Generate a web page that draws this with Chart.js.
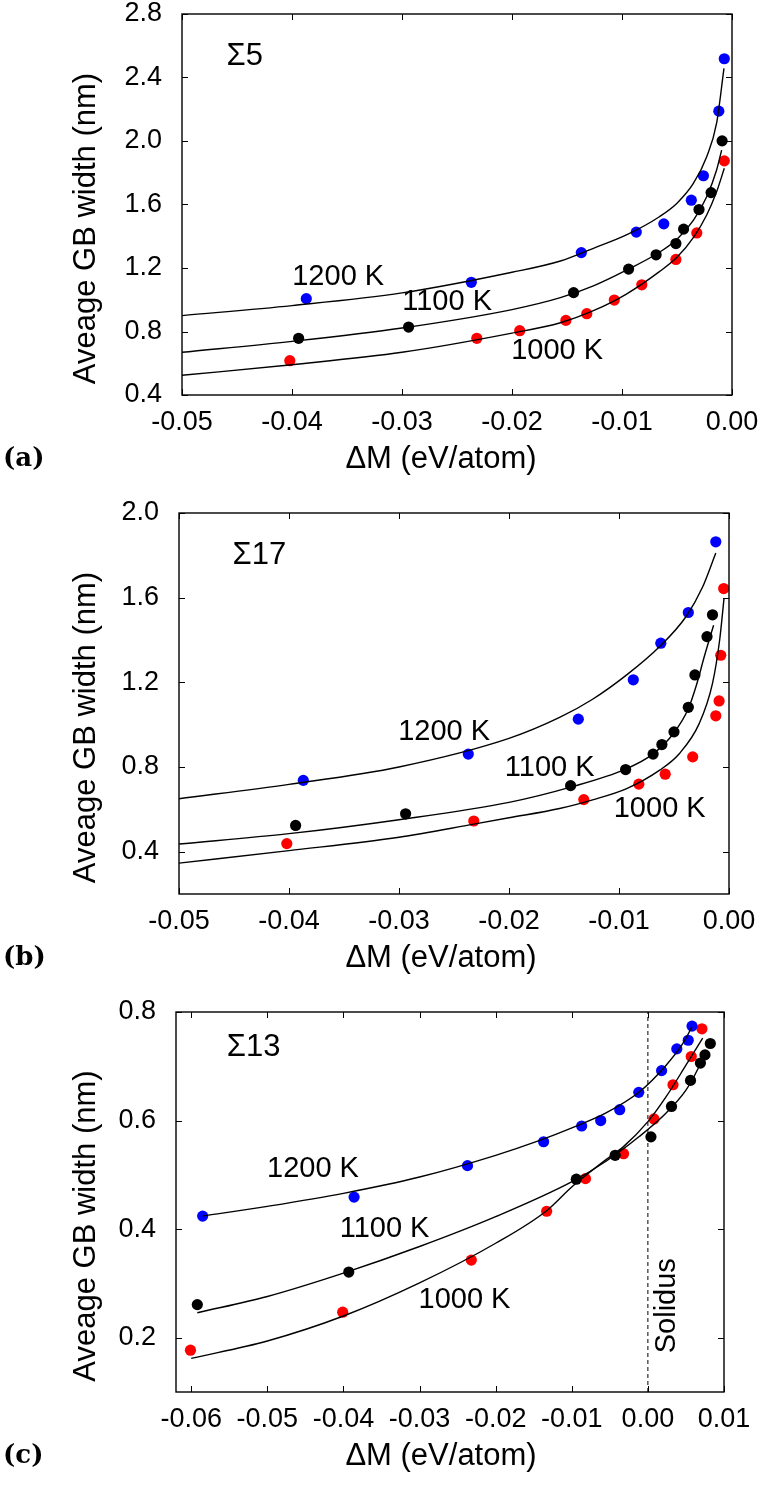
<!DOCTYPE html>
<html>
<head>
<meta charset="utf-8">
<script src="https://cdn.jsdelivr.net/npm/chart.js@4.4.1/dist/chart.umd.min.js"></script>
<style>
html,body{margin:0;padding:0;background:#fff;}
#wrap{position:relative;width:761px;height:1493px;overflow:hidden;}
canvas{position:absolute;left:0;}
</style>
</head>
<body>
<div id="wrap">
<canvas id="ca" width="761" height="480" style="top:0px"></canvas>
<canvas id="cb" width="761" height="510" style="top:480px"></canvas>
<canvas id="cc" width="761" height="503" style="top:990px"></canvas>
</div>
<script>
// ---------------- DATA ----------------
// Panel (a) Σ5
const aXTicks = [-0.05, -0.04, -0.03, -0.02, -0.01, 0.00];
const aYTicks = [0.4, 0.8, 1.2, 1.6, 2.0, 2.4, 2.8];
const a1200x = [-0.0387, -0.0237, -0.0137, -0.0087, -0.0062, -0.0037, -0.0026, -0.0012, -0.0007];
const a1200y = [1.007, 1.110, 1.297, 1.426, 1.478, 1.627, 1.781, 2.188, 2.518];
const a1100x = [-0.0394, -0.0294, -0.0144, -0.0094, -0.0069, -0.0051, -0.0044, -0.0030, -0.0019, -0.0009];
const a1100y = [0.757, 0.828, 1.045, 1.193, 1.283, 1.354, 1.445, 1.568, 1.675, 2.001];
const a1000x = [-0.0402, -0.0232, -0.0193, -0.0151, -0.0132, -0.0107, -0.0082, -0.0051, -0.0032, -0.0007];
const a1000y = [0.616, 0.757, 0.805, 0.870, 0.912, 0.998, 1.094, 1.254, 1.421, 1.875];
const aFit1200x = [-0.05, -0.04, -0.03, -0.02, -0.0156, -0.0126, -0.0096, -0.0066, -0.0050, -0.0035, -0.0023, -0.0014, -0.00073];
const aFit1200y = [0.900, 0.963, 1.043, 1.173, 1.244, 1.324, 1.408, 1.523, 1.608, 1.734, 1.901, 2.112, 2.458];
const aFit1100x = [-0.05, -0.04, -0.03, -0.02, -0.0156, -0.0126, -0.0096, -0.0066, -0.0050, -0.0035, -0.0023, -0.0014, -0.00094];
const aFit1100y = [0.669, 0.738, 0.822, 0.938, 1.013, 1.087, 1.186, 1.299, 1.381, 1.502, 1.649, 1.817, 1.943];
const aFit1000x = [-0.05, -0.04, -0.03, -0.02, -0.0156, -0.0126, -0.0096, -0.0066, -0.0050, -0.0035, -0.0023, -0.0014, -0.0007];
const aFit1000y = [0.524, 0.591, 0.669, 0.790, 0.855, 0.931, 1.036, 1.177, 1.267, 1.393, 1.534, 1.680, 1.828];

// Panel (b) Σ17
const bXTicks = [-0.05, -0.04, -0.03, -0.02, -0.01, 0.00];
const bYTicks = [0.4, 0.8, 1.2, 1.6, 2.0];
const b1200x = [-0.0387, -0.0237, -0.0137, -0.0087, -0.0062, -0.0037, -0.0012];
const b1200y = [0.737, 0.861, 1.026, 1.212, 1.385, 1.530, 1.864];
const b1100x = [-0.0394, -0.0294, -0.0144, -0.0094, -0.0069, -0.0061, -0.0050, -0.0037, -0.0031, -0.0020, -0.0015];
const b1100y = [0.524, 0.579, 0.712, 0.788, 0.861, 0.906, 0.966, 1.082, 1.235, 1.416, 1.519];
const b1000x = [-0.0402, -0.0232, -0.0132, -0.0082, -0.0058, -0.0033, -0.0012, -0.0009, -0.00075, -0.00048];
const b1000y = [0.438, 0.545, 0.646, 0.719, 0.766, 0.848, 1.042, 1.112, 1.328, 1.643];
const bFit1200x = [-0.05, -0.04, -0.03, -0.02, -0.0154, -0.0124, -0.0093, -0.0063, -0.0039, -0.0024, -0.0012];
const bFit1200y = [0.650, 0.718, 0.800, 0.935, 1.034, 1.120, 1.235, 1.369, 1.511, 1.650, 1.811];
const bFit1100x = [-0.05, -0.04, -0.03, -0.02, -0.0144, -0.0094, -0.0069, -0.0050, -0.0037, -0.0030, -0.0022, -0.0014];
const bFit1100y = [0.436, 0.485, 0.551, 0.633, 0.705, 0.790, 0.862, 0.962, 1.075, 1.180, 1.330, 1.470];
const bFit1000x = [-0.05, -0.04, -0.03, -0.0232, -0.02, -0.0154, -0.0124, -0.0093, -0.0063, -0.0045, -0.0027, -0.0015, -0.00085, -0.00045];
const bFit1000y = [0.346, 0.405, 0.468, 0.530, 0.560, 0.604, 0.645, 0.698, 0.785, 0.864, 1.006, 1.195, 1.400, 1.598];

// Panel (c) Σ13
const cXTicks = [-0.06, -0.05, -0.04, -0.03, -0.02, -0.01, 0.00, 0.01];
const cYTicks = [0.2, 0.4, 0.6, 0.8];
const c1200x = [-0.0585, -0.0386, -0.0237, -0.0137, -0.0087, -0.0062, -0.0037, -0.0012, 0.0018, 0.0038, 0.0053, 0.0058];
const c1200y = [0.424, 0.459, 0.517, 0.561, 0.590, 0.600, 0.620, 0.652, 0.692, 0.732, 0.748, 0.774];
const c1100x = [-0.0592, -0.0393, -0.0094, -0.0043, 0.0004, 0.0031, 0.0056, 0.0069, 0.0075, 0.0082];
const c1100y = [0.261, 0.321, 0.492, 0.536, 0.570, 0.626, 0.674, 0.706, 0.721, 0.742];
const c1000x = [-0.0601, -0.0401, -0.0232, -0.0133, -0.0082, -0.0032, 0.0008, 0.0033, 0.0057, 0.0071];
const c1000y = [0.177, 0.247, 0.343, 0.433, 0.493, 0.539, 0.603, 0.666, 0.718, 0.769];
const cFit1200x = [-0.0585, -0.05, -0.04, -0.03, -0.02, -0.0143, -0.0099, -0.0055, -0.0011, 0.0024, 0.0046, 0.0058];
const cFit1200y = [0.424, 0.442, 0.466, 0.496, 0.536, 0.563, 0.587, 0.614, 0.653, 0.702, 0.742, 0.773];
const cFit1100x = [-0.0592, -0.05, -0.04, -0.03, -0.02, -0.0099, -0.0055, -0.0011, 0.0024, 0.0050, 0.0066, 0.0077];
const cFit1100y = [0.246, 0.276, 0.319, 0.368, 0.423, 0.488, 0.525, 0.571, 0.614, 0.656, 0.696, 0.730];
const cFit1000x = [-0.0600, -0.05, -0.04, -0.03, -0.02, -0.0133, -0.0099, -0.0055, -0.0032, 0.0, 0.0024, 0.0050, 0.0072];
const cFit1000y = [0.162, 0.194, 0.240, 0.301, 0.374, 0.434, 0.479, 0.528, 0.552, 0.598, 0.644, 0.702, 0.752];
const cSolidusX = [0.0, 0.0];
const cSolidusY = [0.1, 0.8];

// ---------------- STYLE ----------------
const SANS = '"Liberation Sans", Arial, Helvetica, sans-serif';
const SERIF = '"DejaVu Serif", "Liberation Serif", serif';
const TICK_SIZE = 27, TITLE_SIZE = 31, LABEL_SIZE = 29, SIGMA_SIZE = 31;
const Y_W = 80, X_H = 50;
const COL = {1200: '#0000ff', 1100: '#000000', 1000: '#ff0000'};

function pts(xs, ys) { return xs.map((x, i) => ({x: x, y: ys[i]})); }

const framePlugin = {
  id: 'frame',
  afterDatasetsDraw(chart) {
    const {ctx, chartArea: a, scales} = chart;
    ctx.save();
    ctx.strokeStyle = '#000';
    ctx.lineWidth = 1.4;
    ctx.strokeRect(a.left, a.top, a.right - a.left, a.bottom - a.top);
    ctx.lineWidth = 1;
    const L = 6;
    scales.x.ticks.forEach(t => {
      const px = Math.round(scales.x.getPixelForValue(t.value)) + 0.5;
      ctx.beginPath();
      ctx.moveTo(px, a.bottom); ctx.lineTo(px, a.bottom - L);
      ctx.moveTo(px, a.top); ctx.lineTo(px, a.top + L);
      ctx.stroke();
    });
    scales.y.ticks.forEach(t => {
      const py = Math.round(scales.y.getPixelForValue(t.value)) + 0.5;
      ctx.beginPath();
      ctx.moveTo(a.left, py); ctx.lineTo(a.left + L, py);
      ctx.moveTo(a.right, py); ctx.lineTo(a.right - L, py);
      ctx.stroke();
    });
    ctx.restore();
  }
};

const textPlugin = {
  id: 'texts',
  afterDraw(chart, args, opts) {
    const {ctx, scales} = chart;
    const a = chart.chartArea;
    ctx.save();
    ctx.fillStyle = '#000';
    ctx.textAlign = 'center';
    ctx.textBaseline = 'middle';
    (opts.labels || []).forEach(l => {
      const px = scales.x.getPixelForValue(l.x);
      const py = scales.y.getPixelForValue(l.y);
      ctx.font = l.size + 'px ' + SANS;
      ctx.save();
      ctx.translate(px, py);
      if (l.rot) ctx.rotate(l.rot);
      ctx.fillText(l.text, 0, 0);
      ctx.restore();
    });
    ctx.font = TITLE_SIZE + 'px ' + SANS;
    ctx.fillText(opts.xTitle, opts.xTitleX, a.bottom + opts.xTitleDy);
    ctx.save();
    ctx.translate(opts.yTitleX, (a.top + a.bottom) / 2 + opts.yTitleDy);
    ctx.rotate(-Math.PI / 2);
    ctx.fillText(opts.yTitle, 0, 0);
    ctx.restore();
    ctx.font = 'bold 26px ' + SERIF;
    ctx.textAlign = 'left';
    ctx.fillText(opts.letter, 3, a.bottom + opts.letterDy);
    ctx.restore();
  }
};

function makePanel(id, top, height, area, xr, yr, xTicks, yTicks, sets, fits, extra, labels, letter) {
  const datasets = [];
  fits.forEach(f => datasets.push({
    data: pts(f[0], f[1]), showLine: true, borderColor: '#000', borderWidth: 1.4,
    pointRadius: 0, cubicInterpolationMode: 'monotone', fill: false, order: 0
  }));
  extra.forEach(e => datasets.push(e));
  sets.forEach(s => datasets.push({
    data: pts(s[0], s[1]), showLine: false, backgroundColor: COL[s[2]],
    pointRadius: 5.6, pointBorderWidth: 0, borderWidth: 0, order: 1
  }));
  return new Chart(document.getElementById(id), {
    type: 'scatter',
    data: {datasets: datasets},
    options: {
      responsive: false, animation: false, events: [],
      layout: {padding: {left: area.l - Y_W, right: 761 - area.r, top: area.t - top, bottom: top + height - area.b - X_H}},
      plugins: {
        legend: {display: false}, tooltip: {enabled: false},
        texts: {labels: labels, xTitle: 'ΔM (eV/atom)', xTitleX: 441, xTitleDy: 64,
                yTitle: 'Aveage GB width (nm)', yTitleX: 86, yTitleDy: 24, letter: letter, letterDy: 64}
      },
      scales: {
        x: {
          type: 'linear', min: xr[0], max: xr[1],
          afterBuildTicks: s => { s.ticks = xTicks.map(v => ({value: v})); },
          afterFit: s => { s.height = X_H; s.paddingLeft = 0; s.paddingRight = 0; },
          ticks: {callback: v => (Math.abs(v) < 1e-9 ? 0 : v).toFixed(2), font: {family: SANS, size: TICK_SIZE},
                  color: '#000', padding: 11, maxRotation: 0, autoSkip: false},
          grid: {display: false, drawTicks: false}, border: {display: false}
        },
        y: {
          type: 'linear', min: yr[0], max: yr[1],
          afterBuildTicks: s => { s.ticks = yTicks.map(v => ({value: v})); },
          afterFit: s => { s.width = Y_W; s.paddingTop = 0; s.paddingBottom = 0; },
          ticks: {callback: v => v.toFixed(1), font: {family: SANS, size: TICK_SIZE},
                  color: '#000', padding: 20, autoSkip: false},
          grid: {display: false, drawTicks: false}, border: {display: false}
        }
      }
    },
    plugins: [framePlugin, textPlugin]
  });
}

makePanel('ca', 0, 480, {l: 182, r: 732, t: 14, b: 395}, [-0.05, 0.0], [0.4, 2.8], aXTicks, aYTicks,
  [[a1200x, a1200y, 1200], [a1100x, a1100y, 1100], [a1000x, a1000y, 1000]],
  [[aFit1200x, aFit1200y], [aFit1100x, aFit1100y], [aFit1000x, aFit1000y]], [],
  [{text: 'Σ5', x: -0.0443, y: 2.535, size: SIGMA_SIZE},
   {text: '1200 K', x: -0.0358, y: 1.143, size: LABEL_SIZE},
   {text: '1100 K', x: -0.0259, y: 0.986, size: LABEL_SIZE},
   {text: '1000 K', x: -0.0159, y: 0.677, size: LABEL_SIZE}], '(a)');

makePanel('cb', 480, 510, {l: 179, r: 729, t: 513, b: 894}, [-0.05, 0.0], [0.2, 2.0], bXTicks, bYTicks,
  [[b1200x, b1200y, 1200], [b1100x, b1100y, 1100], [b1000x, b1000y, 1000]],
  [[bFit1200x, bFit1200y], [bFit1100x, bFit1100y], [bFit1000x, bFit1000y]], [],
  [{text: 'Σ17', x: -0.0427, y: 1.798, size: SIGMA_SIZE},
   {text: '1200 K', x: -0.0259, y: 0.965, size: LABEL_SIZE},
   {text: '1100 K', x: -0.0163, y: 0.794, size: LABEL_SIZE},
   {text: '1000 K', x: -0.0063, y: 0.600, size: LABEL_SIZE}], '(b)');

makePanel('cc', 990, 503, {l: 176, r: 724, t: 1012, b: 1392}, [-0.062, 0.01], [0.1, 0.8], cXTicks, cYTicks,
  [[c1200x, c1200y, 1200], [c1100x, c1100y, 1100], [c1000x, c1000y, 1000]],
  [[cFit1200x, cFit1200y], [cFit1100x, cFit1100y], [cFit1000x, cFit1000y]],
  [{data: pts(cSolidusX, cSolidusY), showLine: true, borderColor: '#000', borderWidth: 1,
    borderDash: [4, 3], pointRadius: 0, order: 2}],
  [{text: 'Σ13', x: -0.0518, y: 0.735, size: SIGMA_SIZE},
   {text: '1200 K', x: -0.0440, y: 0.511, size: LABEL_SIZE},
   {text: '1100 K', x: -0.0346, y: 0.401, size: LABEL_SIZE},
   {text: '1000 K', x: -0.0241, y: 0.269, size: LABEL_SIZE},
   {text: 'Solidus', x: 0.00245, y: 0.259, size: 29, rot: -Math.PI / 2}], '(c)');
</script>
</body>
</html>
